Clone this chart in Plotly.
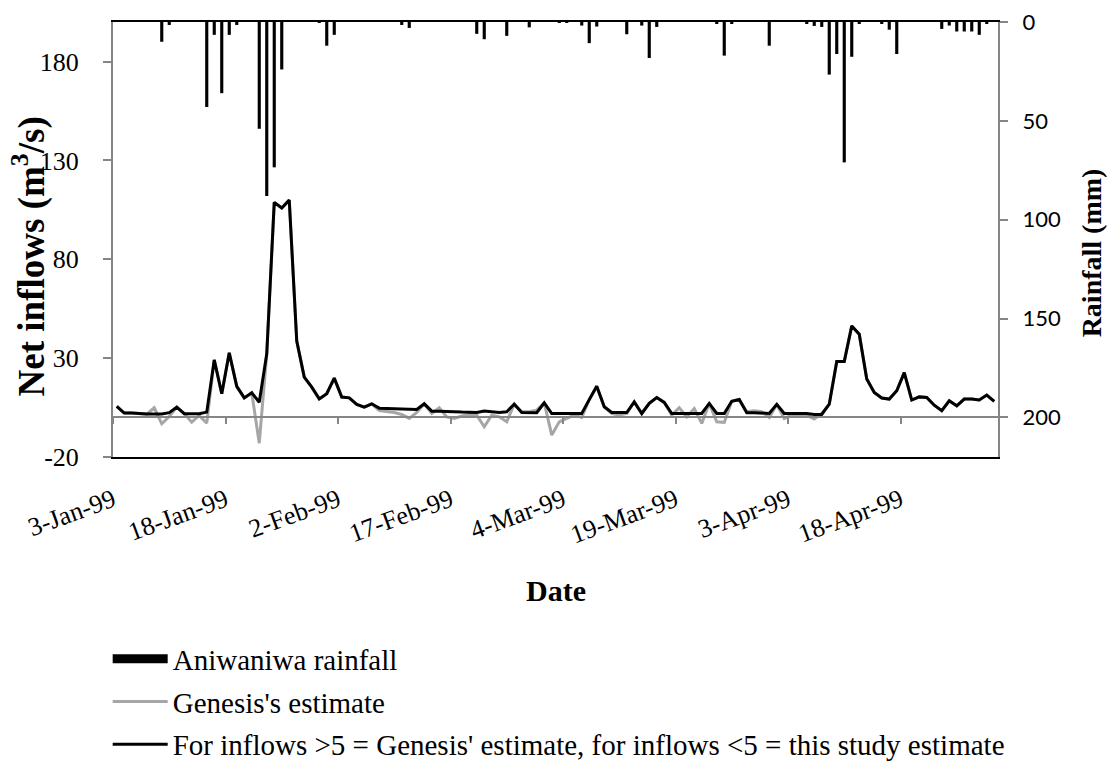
import pandas as pd
import plotly.graph_objects as go

# ---------------- data ----------------
dates = pd.date_range("1999-01-03 12:00", periods=118, freq="D")

net_inflow = [
    5.6, 2.2, 2.2, 1.9, 1.7, 1.7, 1.7, 2.4, 5.2, 1.9,
    1.9, 1.9, 2.7, 29.1, 12.0, 32.7, 15.7, 9.9, 12.5, 7.7,
    32.2, 108.8, 105.9, 109.9, 38.6, 20.4, 15.3, 9.4, 12.0, 19.9,
    10.3, 9.9, 6.6, 5.2, 6.9, 4.7, 4.5, 4.3, 4.2, 4.1,
    4.0, 6.9, 3.2, 3.2, 3.2, 2.9, 2.7, 2.5, 2.5, 3.2,
    2.9, 2.5, 2.9, 6.7, 2.5, 2.5, 2.4, 7.4, 2.0, 2.0,
    2.0, 2.0, 2.0, 9.0, 15.8, 5.4, 2.5, 2.5, 2.5, 7.9,
    2.0, 7.1, 10.1, 7.6, 2.0, 2.0, 2.0, 2.0, 2.0, 7.1,
    2.0, 2.0, 8.2, 9.1, 2.4, 2.4, 2.2, 2.0, 6.6, 2.0,
    2.0, 2.0, 2.0, 1.5, 1.5, 6.7, 28.3, 28.3, 46.3, 42.1,
    19.4, 12.6, 9.8, 9.3, 13.5, 22.7, 8.8, 10.4, 10.1, 6.2,
    3.4, 8.4, 5.9, 9.3, 9.3, 8.8, 11.3, 8.1,
]

genesis = [
    5.6, 2.2, 2.2, 1.9, 1.7, 4.9, -3.2, 0.5, 5.2, 2.0,
    -2.4, 1.0, -2.9, 29.1, 12.0, 32.7, 15.7, 9.9, 12.5, -13.0,
    32.2, 108.8, 105.9, 109.9, 38.6, 20.4, 15.3, 9.4, 12.0, 19.9,
    10.3, 9.9, 6.6, 5.2, 6.9, 3.5, 3.0, 2.5, 1.5, -0.5,
    2.5, 6.9, 2.0, 4.9, 0.3, -0.5, 0.7, 1.5, 1.2, -4.7,
    1.2, 0.3, -2.2, 6.7, 2.9, 2.9, 3.7, 7.4, -8.9, -2.2,
    -0.5, 1.2, 0.0, 9.0, 15.8, 5.4, 2.0, 1.2, 2.0, 7.9,
    2.0, 7.1, 10.1, 7.6, 1.2, 4.9, 0.3, 4.5, -3.0, 7.1,
    -2.2, -2.5, 8.2, 9.1, 2.9, 3.4, 2.9, 0.0, 6.6, -0.5,
    1.2, 1.2, 1.2, -0.8, 2.0, 6.7, 28.3, 28.3, 46.3, 42.1,
    19.4, 12.6, 9.8, 9.3, 13.5, 22.7, 8.8, 10.4, 10.1, 6.2,
    3.4, 8.4, 5.9, 9.3, 9.3, 8.8, 11.3, 8.1,
]

rainfall = [
    0, 0, 0, 0, 0, 0, 10, 1.5, 0, 0,
    0, 0, 43, 6.5, 36, 6.5, 1.5, 0, 0, 54,
    88, 73.5, 24, 0, 0, 0, 0, 0.5, 12, 6.5,
    0, 0, 0, 0, 0, 0, 0, 0, 1.5, 3,
    0, 0, 0, 0, 0, 0, 0, 0, 6, 8.7,
    0, 0, 7, 0, 0, 2.7, 0, 0, 0, 0.3,
    0.3, 0, 1.8, 10.7, 2.3, 0, 0, 0, 6.2, 0,
    1.8, 18.2, 2.5, 0, 0, 0, 0, 0, 0, 0,
    1, 17, 0.8, 0, 0, 0, 0, 12, 0, 0,
    0, 0, 1, 2, 2.5, 26.6, 16.2, 71, 17.6, 0.8,
    0, 0, 0.8, 3.9, 16.2, 0, 0, 0, 0, 0,
    3.5, 1.8, 4.8, 4.8, 4.8, 6.5, 0.8, 0,
]

tick_dates = ["1999-01-03", "1999-01-18", "1999-02-02", "1999-02-17",
              "1999-03-04", "1999-03-19", "1999-04-03", "1999-04-18"]
tick_labels = ["3-Jan-99", "18-Jan-99", "2-Feb-99", "17-Feb-99",
               "4-Mar-99", "19-Mar-99", "3-Apr-99", "18-Apr-99"]
inflow_ticks = [-20, 30, 80, 130, 180]
inflow_tick_labels = ["-20", "30", "80", "130", "180"]
rain_ticks = [0, 50, 100, 150, 200]

# ---------------- styles ----------------
SERIF = "Liberation Serif, Times New Roman, serif"
SANS = "Lato, Carlito, Calibri, sans-serif"
AXIS_GREY = "#868686"
GENESIS_GREY = "#A6A6A6"
x_range = ["1999-01-03", "1999-05-01"]

fig = go.Figure()

# lines on the main subplot (x, y)
fig.add_trace(go.Scatter(
    x=dates, y=genesis, mode="lines", xaxis="x", yaxis="y",
    line=dict(color=GENESIS_GREY, width=3), name="Genesis's estimate",
    legendgroup="b",
))
fig.add_trace(go.Scatter(
    x=dates, y=net_inflow, mode="lines", xaxis="x", yaxis="y",
    line=dict(color="black", width=3),
    name="For inflows >5 = Genesis' estimate, for inflows <5 = this study estimate",
    legendgroup="c",
))
# rainfall bars hanging from the top on the reversed right axis
fig.add_trace(go.Bar(
    x=dates, y=rainfall, xaxis="x", yaxis="y2",
    marker=dict(color="black", line=dict(width=0)),
    width=0.42 * 86400000, showlegend=False, name="Aniwaniwa rainfall",
))
# legend entry for rainfall (wide black block like the original);
# also hosts the zero-crossing tick axis x2
fig.add_trace(go.Scatter(
    x=[None], y=[None], mode="lines", xaxis="x2", yaxis="y",
    line=dict(color="black", width=9), name="Aniwaniwa rainfall",
    legendgroup="a", legendrank=1,
))

fig.update_layout(
    width=1112, height=769,
    margin=dict(l=113, r=114, t=22, b=312, autoexpand=False),
    paper_bgcolor="white", plot_bgcolor="white",
    font=dict(family=SERIF, color="black", size=26),
    xaxis=dict(
        type="date", range=x_range, tickvals=tick_dates, ticktext=tick_labels,
        tickangle=-20, ticks="", showgrid=False, zeroline=False,
        showline=True, linecolor="black", linewidth=2, mirror=True,
        tickfont=dict(family=SERIF, size=26), ticklabelstandoff=16,
        automargin=False,
    ),
    xaxis2=dict(
        type="date", range=x_range, matches="x", overlaying="x",
        anchor="free", position=20 / 220, tickvals=tick_dates,
        showticklabels=False, ticks="outside", ticklen=6, tickwidth=1.5,
        tickcolor=AXIS_GREY, showline=True, linecolor=AXIS_GREY, linewidth=2,
        showgrid=False, zeroline=False,
    ),
    yaxis=dict(
        range=[-20, 200], tickvals=inflow_ticks, ticktext=inflow_tick_labels,
        ticks="outside", ticklen=8, tickwidth=1.5, tickcolor=AXIS_GREY,
        showline=True, linecolor=AXIS_GREY, linewidth=2, showgrid=False,
        zeroline=False, tickfont=dict(family=SERIF, size=26),
        ticklabelstandoff=19, automargin=False,
    ),
    yaxis2=dict(
        range=[220, 0], tickvals=rain_ticks, overlaying="y", side="right",
        anchor="x", ticks="outside", ticklen=8, tickwidth=1.5,
        tickcolor=AXIS_GREY, showline=True, linecolor=AXIS_GREY, linewidth=2,
        showgrid=False, zeroline=False, tickfont=dict(family=SANS, size=22),
        ticklabelstandoff=10, automargin=False,
    ),
    legend=dict(
        x=-0.006, y=-0.4055, xanchor="left", yanchor="top",
        font=dict(family=SERIF, size=29), tracegroupgap=2,
        traceorder="grouped", itemwidth=55, bgcolor="rgba(0,0,0,0)",
    ),
    annotations=[
        dict(text="<b>Net inflows (m<sup>3</sup>/s)</b>", textangle=-90,
             xref="paper", yref="paper", x=-0.0945, y=0.462,
             xanchor="center", yanchor="middle", showarrow=False,
             font=dict(family=SERIF, size=37)),
        dict(text="<b>Rainfall (mm)</b>", textangle=-90,
             xref="paper", yref="paper", x=1.106, y=0.47,
             xanchor="center", yanchor="middle", showarrow=False,
             font=dict(family=SERIF, size=28)),
        dict(text="<b>Date</b>", xref="paper", yref="paper", x=0.5,
             y=-0.306, xanchor="center", yanchor="middle", showarrow=False,
             font=dict(family=SERIF, size=30)),
    ],
)

fig.write_html("out.html")
